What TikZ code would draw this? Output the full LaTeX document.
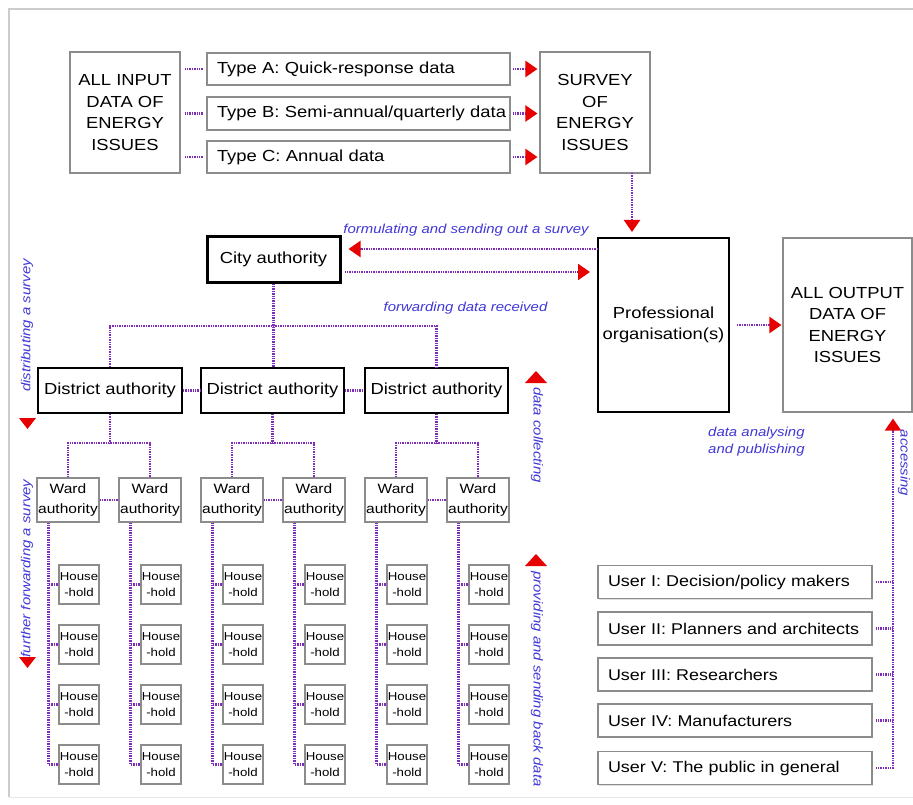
\documentclass[tikz,border=0pt]{standalone}
\usepackage{fontspec}
\setmainfont[FakeStretch=1.15]{Liberation Sans}
\usetikzlibrary{arrows.meta,shadows,calc}

\definecolor{dotc}{RGB}{125,45,185}
\definecolor{lblc}{RGB}{65,55,215}
\definecolor{redc}{RGB}{230,0,0}
\definecolor{boxc}{RGB}{140,140,140}

\newcommand\FMain{\fontsize{16pt}{21.5pt}\selectfont}
\newcommand\FUser{\fontsize{15.6pt}{20pt}\selectfont}
\newcommand\FWard{\fontsize{13.5pt}{20pt}\selectfont}
\newcommand\FHold{\fontsize{11.5pt}{16pt}\selectfont}
\newcommand\FLbl{\fontsize{13pt}{17pt}\selectfont\itshape}

\begin{document}
\begin{tikzpicture}[x=1pt,y=-1pt,
  gbox/.style={draw=boxc, line width=1.1pt, fill=white, inner sep=0pt, align=center,
    drop shadow={shadow xshift=1.3pt, shadow yshift=-1.3pt, opacity=0.25}},
  bbox/.style={draw=black, line width=2pt, fill=white, inner sep=0pt, align=center, font=\FMain},
  typebox/.style={gbox, minimum width=303pt, text width=283pt, align=left, font=\FMain},
  userbox/.style={gbox, minimum width=274pt, minimum height=33pt, text width=254pt, align=left, font=\FUser},
  dots/.style={draw=dotc, line width=2.2pt, dash pattern=on 1.4pt off 1.0pt},
  arr/.style={dots, -{Triangle[length=12pt,width=16pt,color=redc]}},
  lbl/.style={text=lblc, font=\FLbl, inner sep=0pt, align=left}
]
\useasboundingbox (0,0) rectangle (913,805);
\draw[gray!40, line width=1.5pt] (9,797) -- (9,9) -- (913,9);
\draw[gray!18, line width=1pt] (9,797) -- (913,797);

% top section
\node[gbox, minimum width=110pt, minimum height=121pt, font=\FMain] (inall) at (125,112.5) {ALL INPUT\\DATA OF\\ENERGY\\ISSUES};
\node[typebox, minimum height=32pt] (tA) at (358.5,69) {\mbox{Type A: Quick-response data}};
\node[typebox, minimum height=33pt] (tB) at (358.5,113.5) {\mbox{Type B: Semi-annual/quarterly data}};
\node[typebox, minimum height=32pt] (tC) at (358.5,157) {\mbox{Type C: Annual data}};
\node[gbox, minimum width=110pt, minimum height=121pt, font=\FMain] (survey) at (595,112.5) {SURVEY\\OF\\ENERGY\\ISSUES};

\foreach \t in {tA,tB,tC} {
  \draw[dots, shorten <=4pt, shorten >=3pt] (\t.west -| inall.east) -- (\t.west);
  \draw[arr, shorten <=2pt, shorten >=2pt] (\t.east) -- (\t.east -| survey.west);
}

% professional and output
\node[bbox, minimum width=131pt, minimum height=174pt] (prof) at (663.5,325) {Professional\\organisation(s)};
\node[gbox, minimum width=129pt, minimum height=174pt, font=\FMain] (allout) at (847.5,325) {ALL OUTPUT\\DATA OF\\ENERGY\\ISSUES};

\coordinate (sv) at (632,173);
\draw[arr, shorten >=5pt] (sv) -- (sv |- prof.north);
\draw[arr, shorten <=7pt, shorten >=1pt] (prof.east) -- (allout.west);

% city
\node[bbox, line width=3pt, minimum width=133pt, minimum height=45pt] (city) at (273.5,259.5) {City authority};
\coordinate (p1) at (598,249);
\coordinate (p2) at (598,272);
\draw[arr, shorten >=7pt] (p1) -- (city.east |- p1);
\draw[arr, shorten <=3pt, shorten >=8pt] (city.east |- p2) -- (p2);

\node[lbl] (lform) at (466,230) {formulating and sending out a survey};
\node[lbl] (lfwd) at (465.5,308) {forwarding data received};
\node[lbl, anchor=west] (lana) at (708,441.5) {data analysing\\and publishing};

% districts
\node[bbox, minimum width=144pt, minimum height=45pt] (D1) at (110,390.5) {District authority};
\node[bbox, minimum width=143pt, minimum height=45pt] (D2) at (272.5,390.5) {District authority};
\node[bbox, minimum width=143pt, minimum height=45pt] (D3) at (436.5,390.5) {District authority};

\coordinate (bus) at (0,326);
\draw[dots] (city.south) -- (city.south |- D2.north);
\draw[dots] (D1.north) -- (D1.north |- bus) -- (D3.north |- bus) -- (D3.north);
\draw[dots] (D1.east) -- (D2.west);
\draw[dots] (D2.east) -- (D3.west);

% wards and households
\foreach \i/\xl in {1/37,2/119,3/201,4/283,5/365,6/447} {
  \node[gbox, minimum width=62pt, minimum height=44pt, font=\FWard] (W\i) at (\xl+31,500) {Ward\\authority};
  \foreach \j/\yy in {1/584.5,2/644.5,3/704.5,4/764.5} {
    \node[gbox, minimum width=40pt, minimum height=39pt, font=\FHold] (H\i\j) at (\xl+42,\yy) {House\\-hold};
  }
  \foreach \j in {1,2,3,4} {
    \draw[dots] ($(W\i.south west)+(12,0)$) |- (H\i\j.west);
  }
}
\coordinate (wb) at (0,443);
\foreach \d/\a/\b in {D1/W1/W2, D2/W3/W4, D3/W5/W6} {
  \draw[dots] (\d.south) -- (\d.south |- wb);
  \draw[dots] (\a.north) -- (\a.north |- wb) -- (\b.north |- wb) -- (\b.north);
  \draw[dots] (\a.east) -- (\b.west);
}

% users
\node[userbox] (U1) at (735,582) {\mbox{User I: Decision/policy makers}};
\node[userbox] (U2) at (735,628.5) {\mbox{User II: Planners and architects}};
\node[userbox] (U3) at (735,674.5) {\mbox{User III: Researchers}};
\node[userbox] (U4) at (735,720.5) {\mbox{User IV: Manufacturers}};
\node[userbox] (U5) at (735,768) {\mbox{User V: The public in general}};
\coordinate (acc) at (893,0);
\foreach \u in {U1,U2,U3,U4} {
  \draw[dots, shorten <=3pt] (\u.east) -- (\u.east -| acc);
}
\draw[arr, shorten <=3pt, shorten >=6pt] (U5.east) -| (acc |- allout.south);

% rotated side labels
\node[lbl, rotate=90] (ldist) at (27,325.5) {distributing a survey};
\fill[redc] (19,418) -- (36,418) -- (27.5,429) -- cycle;
\node[lbl, rotate=90] (lfurth) at (27,568.5) {further forwarding a survey};
\fill[redc] (19,657) -- (36,657) -- (27.5,668) -- cycle;
\node[lbl, rotate=-90] (lcoll) at (537,435) {data collecting};
\fill[redc] (525,383) -- (547,383) -- (536,371) -- cycle;
\node[lbl, rotate=-90] (lprov) at (537,679) {providing and sending back data};
\fill[redc] (525,566) -- (547,566) -- (536,554) -- cycle;
\node[lbl, rotate=-90] (lacc) at (904,463) {accessing};
\end{tikzpicture}
\end{document}
